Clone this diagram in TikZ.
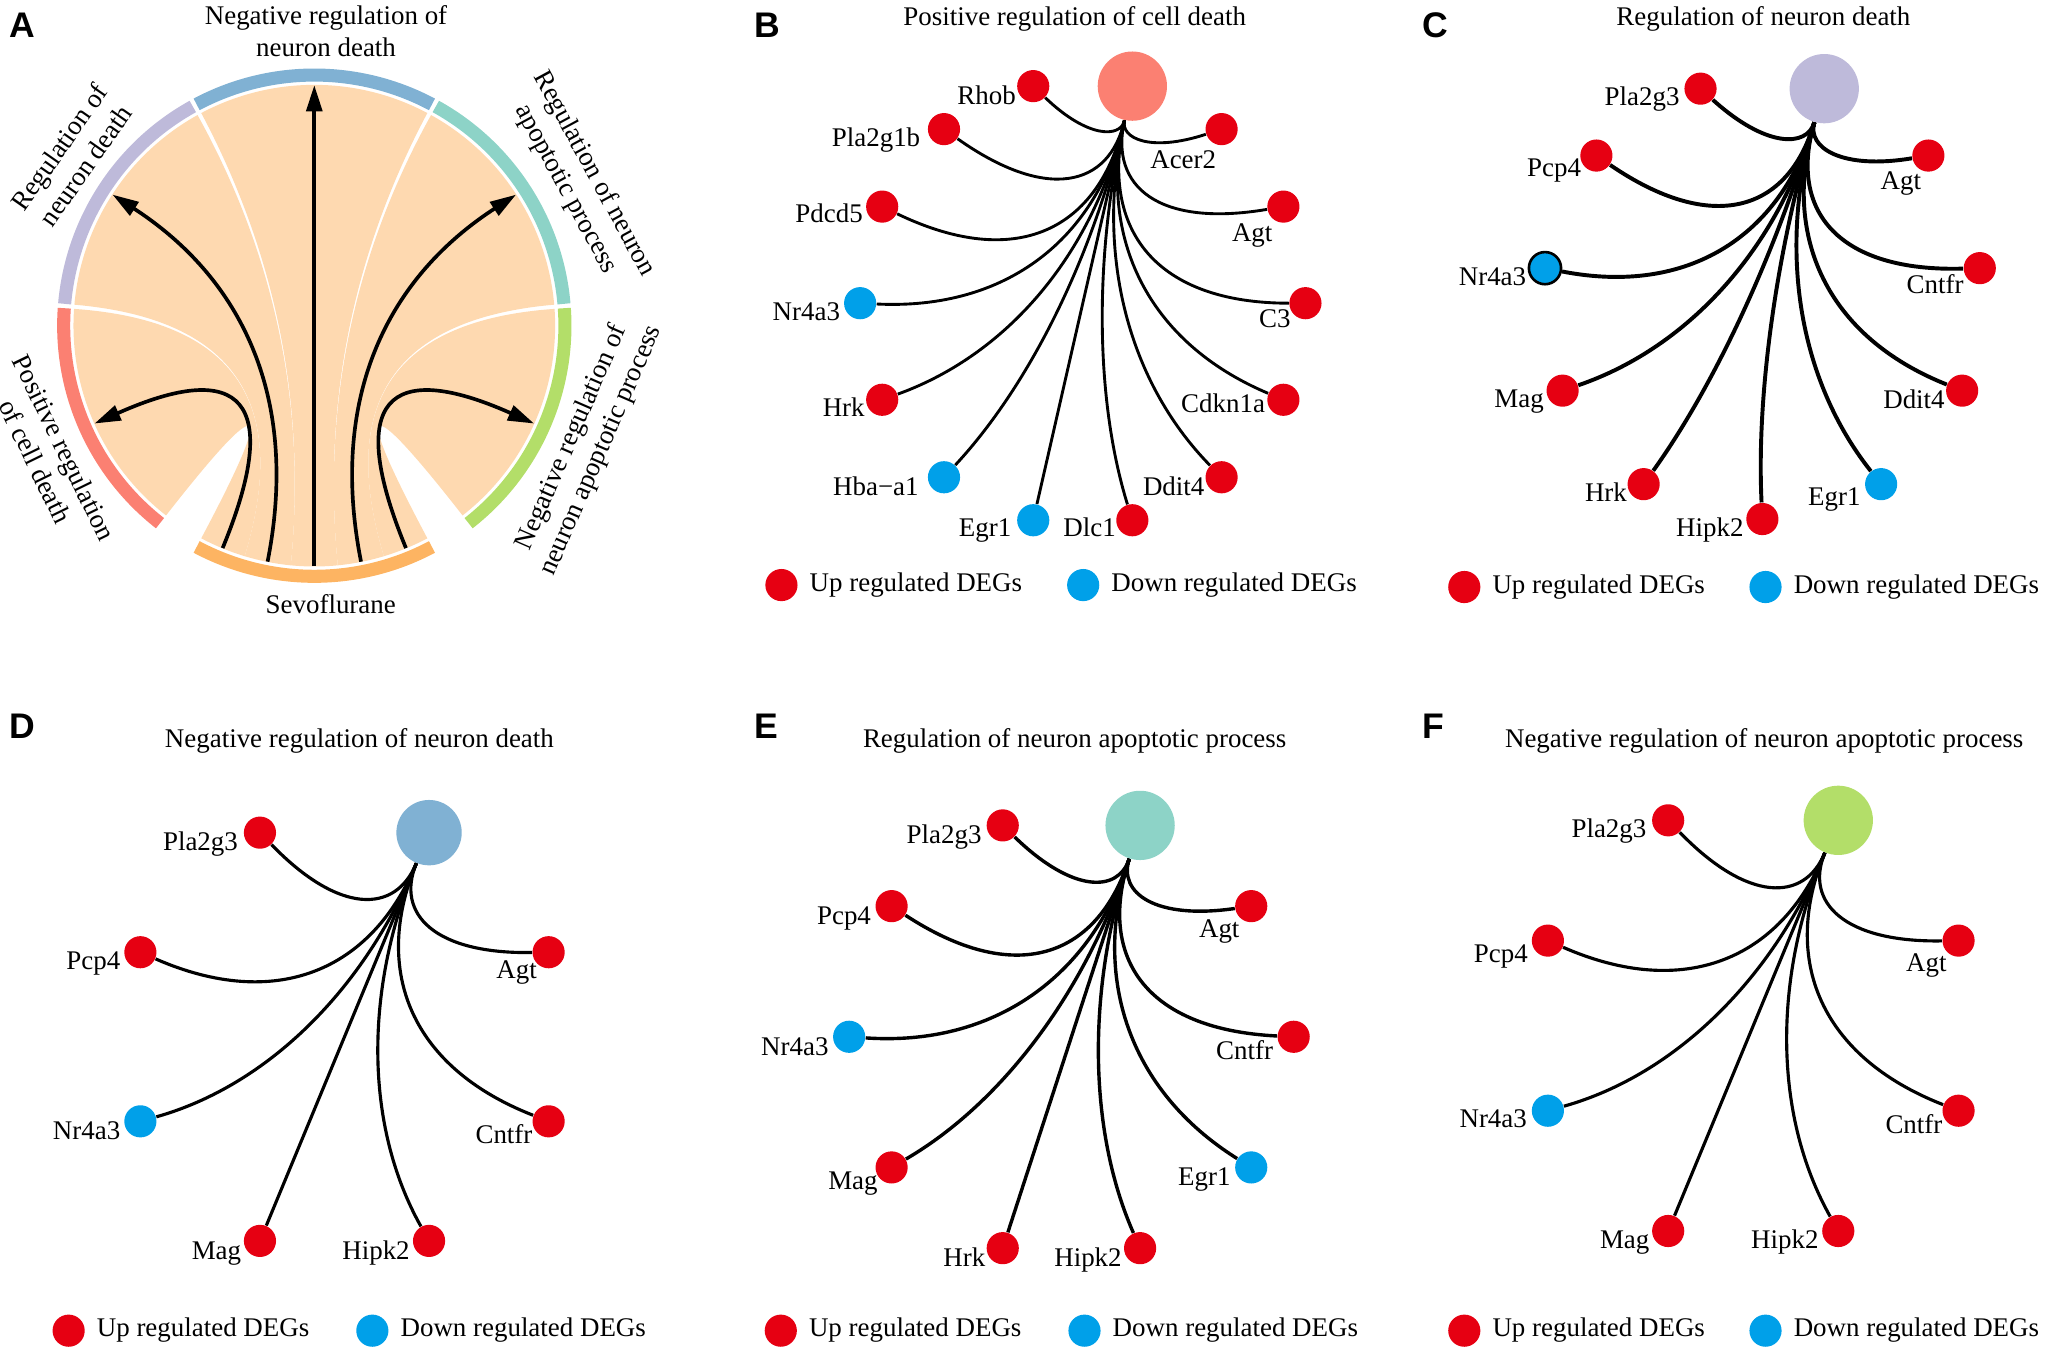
\documentclass[tikz,border=0pt]{standalone}
\usepackage{fontspec}
\setmainfont{Liberation Serif}
\newfontfamily\panelsans{Liberation Sans}
\usepackage{xcolor}
\usepackage{tikz}
\usetikzlibrary{calc}
\usetikzlibrary{arrows.meta}

\definecolor{upc}{HTML}{E60012}
\definecolor{downc}{HTML}{00A0E9}
\definecolor{setred}{HTML}{FB8072}
\definecolor{setpurple}{HTML}{BEBADA}
\definecolor{setblue}{HTML}{80B1D3}
\definecolor{setteal}{HTML}{8DD3C7}
\definecolor{setgreen}{HTML}{B3DE69}
\definecolor{setorange}{HTML}{FDB462}
\definecolor{ribbonc}{HTML}{FED9B0}

\tikzstyle{genedot} = [circle, inner sep=0pt, minimum size=12.3pt]
\tikzstyle{hubdot} = [circle, inner sep=0pt, minimum size=26.5pt]
\tikzstyle{gname} = [anchor=base east, inner sep=0pt, font=\fontsize{10.3}{12}\selectfont]
\tikzstyle{genelink} = [draw=black, line width=1.1pt]
\tikzstyle{paneltitle} = [anchor=base, inner sep=0pt, font=\fontsize{10.3}{12}\selectfont]
\tikzstyle{panelletter} = [anchor=base west, inner sep=0pt, font=\panelsans\bfseries\fontsize{13.6}{16}\selectfont]
\tikzstyle{legtext} = [anchor=mid west, inner sep=0pt, font=\fontsize{10.3}{12}\selectfont]
\tikzstyle{band} = [line width=5pt]
\tikzstyle{ribbon} = [fill=ribbonc]
\tikzstyle{chordarrow} = [line width=1.4pt, -{Triangle[length=10pt,width=6pt]}]
\tikzstyle{seclabel} = [inner sep=0pt, align=center, font=\fontsize{10.3}{12.3}\selectfont]

% one gene: panel, id, angle on the ring, fill, text, label dx, label dy, bend
\newcommand{\gene}[8]{%
  \node[genedot, fill=#4] (#1#2) at ($(#1c)+(#3:\ringr)$) {};
  \node[gname] (#1#2t) at ($(#1#2)+(#6,#7)$) {#5};
  \coordinate (#1#2p) at ($(#1hub)!#8!(#1c)$);
  \draw[genelink] (#1hub) .. controls ($(#1hub)!0.667!(#1#2p)$) and ($(#1#2)!0.667!(#1#2p)$) .. (#1#2);
}
% legend under a panel: panel, x up, x down, y
\newcommand{\deglegend}[4]{%
  \node[genedot, fill=upc] (#1up) at (#2,#4) {};
  \node[legtext] (#1upt) at ($(#1up.east)+(8.5,0)$) {Up regulated DEGs};
  \node[genedot, fill=downc] (#1down) at (#3,#4) {};
  \node[legtext] (#1downt) at ($(#1down.east)+(8.5,0)$) {Down regulated DEGs};
}

\begin{document}
\begin{tikzpicture}[x=0.5pt, y=0.5pt]
\useasboundingbox (0,0) rectangle (1568,-1038.7);

% ---------- A: chord diagram
\node[panelletter] (la) at (7,-28.5) {A};
\begin{scope}[shift={(240.4,-249.1)}]
  % ribbons
  \fill[ribbon] (176:92.1pt) arc[start angle=176, end angle=232, radius=92.1pt]
    .. controls (232:30.7pt) and (242:30.7pt) .. (242:92.1pt)
    arc[start angle=242, end angle=253.2, radius=92.1pt]
    .. controls (253.2:30.7pt) and (176:30.7pt) .. (176:92.1pt) -- cycle;
  \fill[ribbon] (119:92.1pt) arc[start angle=119, end angle=175, radius=92.1pt]
    .. controls (175:30.7pt) and (253.2:30.7pt) .. (253.2:92.1pt)
    arc[start angle=253.2, end angle=264.4, radius=92.1pt]
    .. controls (264.4:30.7pt) and (119:30.7pt) .. (119:92.1pt) -- cycle;
  \fill[ribbon] (62:92.1pt) arc[start angle=62, end angle=118, radius=92.1pt]
    .. controls (118:30.7pt) and (264.4:30.7pt) .. (264.4:92.1pt)
    arc[start angle=264.4, end angle=275.6, radius=92.1pt]
    .. controls (275.6:30.7pt) and (62:30.7pt) .. (62:92.1pt) -- cycle;
  \fill[ribbon] (5:92.1pt) arc[start angle=5, end angle=61, radius=92.1pt]
    .. controls (61:30.7pt) and (275.6:30.7pt) .. (275.6:92.1pt)
    arc[start angle=275.6, end angle=286.8, radius=92.1pt]
    .. controls (286.8:30.7pt) and (5:30.7pt) .. (5:92.1pt) -- cycle;
  \fill[ribbon] (-52:92.1pt) arc[start angle=-52, end angle=4, radius=92.1pt]
    .. controls (4:30.7pt) and (286.8:30.7pt) .. (286.8:92.1pt)
    arc[start angle=286.8, end angle=298, radius=92.1pt]
    .. controls (298:30.7pt) and (-52:30.7pt) .. (-52:92.1pt) -- cycle;
  % sector bands
  \draw[band, draw=setred] (176:95.85pt) arc[start angle=176, end angle=232, radius=95.85pt];
  \draw[band, draw=setpurple] (119:95.85pt) arc[start angle=119, end angle=175, radius=95.85pt];
  \draw[band, draw=setblue] (62:95.85pt) arc[start angle=62, end angle=118, radius=95.85pt];
  \draw[band, draw=setteal] (5:95.85pt) arc[start angle=5, end angle=61, radius=95.85pt];
  \draw[band, draw=setgreen] (-52:95.85pt) arc[start angle=-52, end angle=4, radius=95.85pt];
  \draw[band, draw=setorange] (242:95.85pt) arc[start angle=242, end angle=298, radius=95.85pt];
  % arrows from Sevoflurane
  \coordinate (s0) at (247.6:92pt);
  \coordinate (s1) at (258.8:92pt);
  \coordinate (s2) at (270:92pt);
  \coordinate (s3) at (281.2:92pt);
  \coordinate (s4) at (292.4:92pt);
  \coordinate (tred) at (204:92pt);
  \coordinate (tpurple) at (147:92pt);
  \coordinate (tblue) at (90:92pt);
  \coordinate (tteal) at (33:92pt);
  \coordinate (tgreen) at (-24:92pt);
  \draw[chordarrow] (s0) .. controls (247.6:30.67pt) and (204:30.67pt) .. (tred);
  \draw[chordarrow] (s1) .. controls (258.8:30.67pt) and (147:30.67pt) .. (tpurple);
  \draw[chordarrow] (s2) -- (tblue);
  \draw[chordarrow] (s3) .. controls (281.2:30.67pt) and (33:30.67pt) .. (tteal);
  \draw[chordarrow] (s4) .. controls (292.4:30.67pt) and (-24:30.67pt) .. (tgreen);
  % sector labels
  \node[seclabel, anchor=south] (lblue) at (87.5:102.7pt) {Negative regulation of\\neuron death};
  \node[seclabel, anchor=south, rotate=55] (lpurple) at (145:103pt) {Regulation of\\neuron death};
  \node[seclabel, anchor=south, rotate=-61.5] (lteal) at (28.5:104.5pt) {Regulation of neuron\\apoptotic process};
  \node[seclabel, anchor=north, rotate=296] (lred) at (206:102.5pt) {Positive regulation\\of cell death};
  \node[seclabel, anchor=north, rotate=66.5] (lgreen) at (-23.5:102.5pt) {Negative regulation of\\neuron apoptotic process};
  \node[seclabel, anchor=north] (lorange) at (273.5:103pt) {Sevoflurane};
\end{scope}

% ---------- B
\node[panelletter] (lb) at (577,-28.5) {B};
\node[paneltitle] (btitle) at (822,-19.8) {Positive regulation of cell death};
\begin{scope}
  \def\ringr{170.3}
  \coordinate (bc) at (828.2,-231.9);
  \node[hubdot, fill=setred] (bhub) at ($(bc)+(77.14:\ringr)$) {};
  \gene{b}{Rhob}{102.86}{upc}{Rhob}{-13}{-13.7}{0.36}
  \gene{b}{Pla}{128.57}{upc}{Pla2g1b}{-17.8}{-13}{0.7}
  \gene{b}{Pdcd}{154.29}{upc}{Pdcd5}{-14.5}{-12.3}{1.0}
  \gene{b}{Nr}{180}{downc}{Nr4a3}{-15}{-13}{1.05}
  \gene{b}{Hrk}{205.71}{upc}{Hrk}{-13}{-13}{1.12}
  \gene{b}{Hba}{231.43}{downc}{Hba−a1}{-19}{-13.7}{1.15}
  \gene{b}{Egr}{257.14}{downc}{Egr1}{-16.4}{-12.8}{1.0}
  \gene{b}{Dlc}{282.86}{upc}{Dlc1}{-12.3}{-12.8}{1.15}
  \gene{b}{Ddit}{308.57}{upc}{Ddit4}{-12.8}{-13.7}{1.12}
  \gene{b}{Cdkn}{334.29}{upc}{Cdkn1a}{-13.7}{-9.8}{1.05}
  \gene{b}{Cthree}{0}{upc}{C3}{-11}{-18.6}{1.0}
  \gene{b}{Agt}{25.71}{upc}{Agt}{-8}{-26.8}{0.7}
  \gene{b}{Acer}{51.43}{upc}{Acer2}{-3.8}{-30}{0.36}
\end{scope}
\deglegend{b}{597.7}{828.5}{-447.5}

% ---------- C
\node[panelletter] (lc) at (1088,-28.5) {C};
\node[paneltitle] (ctitle) at (1348.8,-19.8) {Regulation of neuron death};
\begin{scope}[genelink/.append style={line width=1.5pt}]
  \def\ringr{168}
  \coordinate (cc) at (1348,-229);
  \node[hubdot, fill=setpurple] (chub) at ($(cc)+(73.64:\ringr)$) {};
  \gene{c}{Pla}{106.36}{upc}{Pla2g3}{-15.7}{-13}{0.42}
  \gene{c}{Pcp}{139.09}{upc}{Pcp4}{-11.4}{-16}{0.88}
  \gene{c}{Nr}{171.82}{downc, draw=black, line width=1pt}{Nr4a3}{-14}{-13}{1.05}
  \gene{c}{Mag}{204.55}{upc}{Mag}{-14}{-12.7}{1.12}
  \gene{c}{Hrk}{237.27}{upc}{Hrk}{-12.4}{-13.3}{1.15}
  \gene{c}{Hipk}{270}{upc}{Hipk2}{-14}{-13.3}{1.15}
  \gene{c}{Egr}{302.73}{downc}{Egr1}{-15.4}{-16.6}{1.12}
  \gene{c}{Ddit}{335.45}{upc}{Ddit4}{-13}{-13.3}{1.05}
  \gene{c}{Cntfr}{8.18}{upc}{Cntfr}{-12}{-19.6}{0.88}
  \gene{c}{Agt}{40.91}{upc}{Agt}{-5.2}{-26}{0.42}
\end{scope}
\deglegend{c}{1120}{1350.4}{-449}

% ---------- D
\node[panelletter] (ld) at (7,-565) {D};
\node[paneltitle] (dtitle) at (274.9,-571.4) {Negative regulation of neuron death};
\begin{scope}[genelink/.append style={line width=1.2pt}]
  \def\ringr{169}
  \coordinate (dc) at (263.5,-793);
  \node[hubdot, minimum size=25pt, fill=setblue] (dhub) at ($(dc)+(67.5:\ringr)$) {};
  \gene{d}{Pla}{112.5}{upc}{Pla2g3}{-16.5}{-13.6}{0.6}
  \gene{d}{Pcp}{157.5}{upc}{Pcp4}{-15}{-13.2}{1.02}
  \gene{d}{Nr}{202.5}{downc}{Nr4a3}{-15}{-13.9}{1.15}
  \gene{d}{Mag}{247.5}{upc}{Mag}{-14}{-14.2}{1.0}
  \gene{d}{Hipk}{292.5}{upc}{Hipk2}{-14.4}{-14.2}{1.15}
  \gene{d}{Cntfr}{337.5}{upc}{Cntfr}{-12}{-17}{1.02}
  \gene{d}{Agt}{22.5}{upc}{Agt}{-8.6}{-20}{0.6}
\end{scope}
\deglegend{d}{52.5}{284.8}{-1017.8}

% ---------- E
\node[panelletter] (le) at (577,-565) {E};
\node[paneltitle] (etitle) at (822,-571.4) {Regulation of neuron apoptotic process};
\begin{scope}[genelink/.append style={line width=1.3pt}]
  \def\ringr{170}
  \coordinate (ec) at (819.5,-793);
  \node[hubdot, fill=setteal] (ehub) at ($(ec)+(72:\ringr)$) {};
  \gene{e}{Pla}{108}{upc}{Pla2g3}{-15.8}{-13.6}{0.48}
  \gene{e}{Pcp}{144}{upc}{Pcp4}{-15.4}{-13.9}{0.95}
  \gene{e}{Nr}{180}{downc}{Nr4a3}{-15.4}{-14.2}{1.07}
  \gene{e}{Mag}{216}{upc}{Mag}{-10.3}{-16.9}{1.15}
  \gene{e}{Hrk}{252}{upc}{Hrk}{-13}{-14.2}{1.0}
  \gene{e}{Hipk}{288}{upc}{Hipk2}{-13.7}{-14.2}{1.15}
  \gene{e}{Egr}{324}{downc}{Egr1}{-15.4}{-14.2}{1.07}
  \gene{e}{Cntfr}{0}{upc}{Cntfr}{-15.4}{-17.2}{0.95}
  \gene{e}{Agt}{36}{upc}{Agt}{-8.6}{-23.8}{0.48}
\end{scope}
\deglegend{e}{597.2}{829.5}{-1017.8}

% ---------- F
\node[panelletter] (lf) at (1088,-565) {F};
\node[paneltitle] (ftitle) at (1349.4,-571.4) {Negative regulation of neuron apoptotic process};
\begin{scope}[genelink/.append style={line width=1.2pt}]
  \def\ringr{170}
  \coordinate (fc) at (1341,-784.5);
  \node[hubdot, fill=setgreen] (fhub) at ($(fc)+(67.5:\ringr)$) {};
  \gene{f}{Pla}{112.5}{upc}{Pla2g3}{-16.3}{-13.2}{0.6}
  \gene{f}{Pcp}{157.5}{upc}{Pcp4}{-15}{-16.6}{1.02}
  \gene{f}{Nr}{202.5}{downc}{Nr4a3}{-15.7}{-13.2}{1.15}
  \gene{f}{Mag}{247.5}{upc}{Mag}{-14}{-13.2}{1.0}
  \gene{f}{Hipk}{292.5}{upc}{Hipk2}{-14.7}{-13.2}{1.15}
  \gene{f}{Cntfr}{337.5}{upc}{Cntfr}{-12}{-17.2}{1.02}
  \gene{f}{Agt}{22.5}{upc}{Agt}{-8.8}{-23.8}{0.6}
\end{scope}
\deglegend{f}{1120}{1350.4}{-1017.8}

\end{tikzpicture}
\end{document}
